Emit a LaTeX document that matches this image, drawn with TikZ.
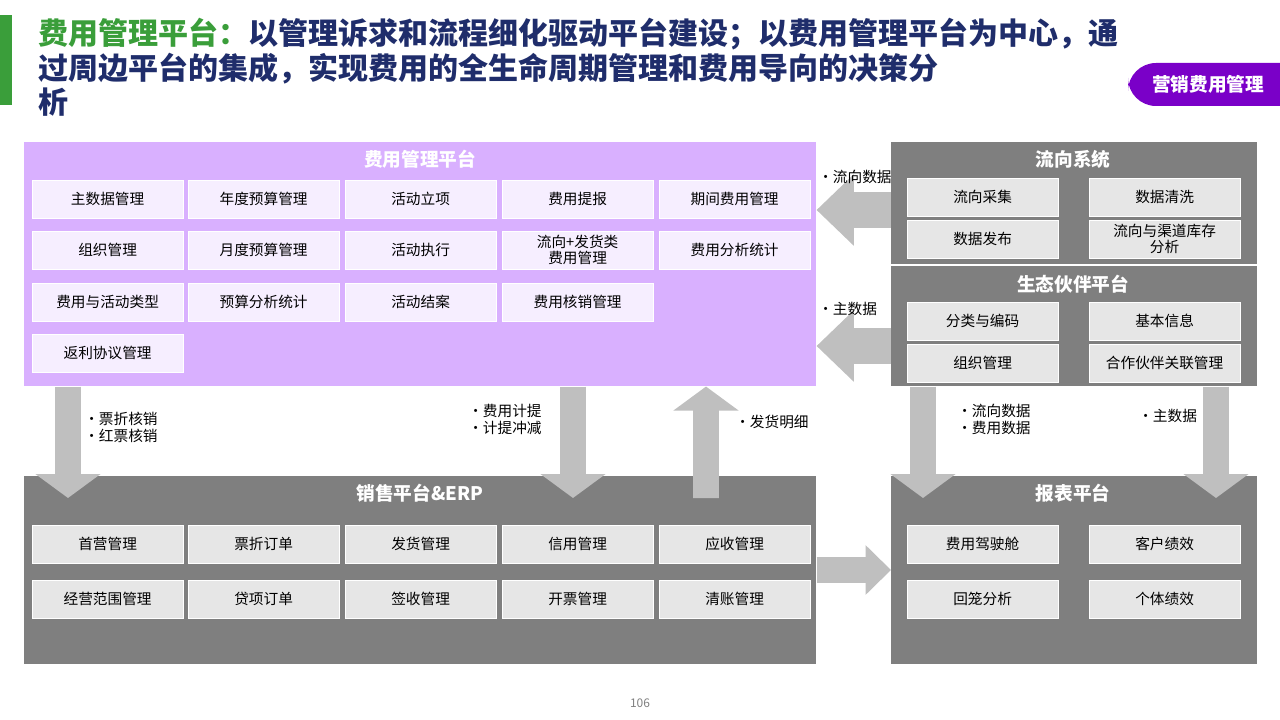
\documentclass[tikz,border=0pt]{standalone}
\usepackage{fontspec}
\setmainfont{Noto Sans CJK SC}
\usetikzlibrary{arrows.meta}
\definecolor{purplepanel}{HTML}{D9B0FF}
\definecolor{purplebox}{HTML}{F6EEFF}
\definecolor{panelgray}{HTML}{7F7F7F}
\definecolor{boxgray}{HTML}{E6E6E6}
\definecolor{arrowgray}{HTML}{BFBFBF}
\definecolor{titlenavy}{HTML}{1F2D6B}
\definecolor{titlegreen}{HTML}{3A9E3A}
\definecolor{badge}{HTML}{7A00C8}
\tikzstyle{panel} = [rectangle, anchor=north west, inner sep=0pt]
\tikzstyle{ptitle} = [text=white, font=\bfseries\fontsize{14}{16}\selectfont]
\tikzstyle{fbox} = [rectangle, anchor=north west, minimum width=113pt, minimum height=28.5pt, draw=white, fill=purplebox, align=center, font=\fontsize{11}{11}\selectfont, inner sep=0pt]
\tikzstyle{gbox} = [fbox, fill=boxgray]
\tikzstyle{vfat} = [line width=19.5pt, arrowgray, -{Triangle[length=18pt,width=48pt]}]
\tikzstyle{hfat} = [line width=27pt, arrowgray, -{Triangle[length=28pt,width=52pt]}]
\tikzstyle{note} = [anchor=north west, align=left, font=\fontsize{11}{13}\selectfont, inner sep=0pt]

\begin{document}
\begin{tikzpicture}[x=0.75pt, y=-0.75pt]
    \useasboundingbox (0,0) rectangle (1280,720);

    % title
    \fill[titlegreen] (0,15) rectangle (12,105);
    \node (title) [anchor=north west, align=left, inner sep=0pt, text=titlenavy, font=\bfseries\fontsize{22.5}{26}\selectfont] at (38,18)
        {\textcolor{titlegreen}{费用管理平台：}以管理诉求和流程细化驱动平台建设；以费用管理平台为中心，通\\过周边平台的集成，实现费用的全生命周期管理和费用导向的决策分\\析};
    \fill[badge, rounded corners=21pt] (1128,63) rectangle (1320,106);
    \node (badge) [text=white, font=\bfseries\fontsize{14}{16}\selectfont] at (1208,84) {营销费用管理};

    % panels
    \node (fee) [panel, fill=purplepanel, minimum width=594pt, minimum height=183pt] at (24,142) {};
    \node [ptitle] at (420,159) {费用管理平台};
    \node (flow) [panel, fill=panelgray, minimum width=274pt, minimum height=91pt] at (891,142) {};
    \node [ptitle] at (1073,159) {流向系统};
    \node (eco) [panel, fill=panelgray, minimum width=274pt, minimum height=90pt] at (891,266) {};
    \node [ptitle] at (1073,284) {生态伙伴平台};
    \node (sales) [panel, fill=panelgray, minimum width=594pt, minimum height=141pt] at (24,476) {};
    \node [ptitle] at (420,493) {销售平台\&ERP};
    \node (report) [panel, fill=panelgray, minimum width=274pt, minimum height=141pt] at (891,476) {};
    \node [ptitle] at (1073,493) {报表平台};

    % fee platform modules
    \node (f11) [fbox] at (32,180) {主数据管理};
    \node (f12) [fbox] at (188,180) {年度预算管理};
    \node (f13) [fbox] at (345,180) {活动立项};
    \node (f14) [fbox] at (502,180) {费用提报};
    \node (f15) [fbox] at (659,180) {期间费用管理};
    \node (f21) [fbox] at (32,231) {组织管理};
    \node (f22) [fbox] at (188,231) {月度预算管理};
    \node (f23) [fbox] at (345,231) {活动执行};
    \node (f24) [fbox, font=\fontsize{11}{12}\selectfont] at (502,231) {流向+发货类\\费用管理};
    \node (f25) [fbox] at (659,231) {费用分析统计};
    \node (f31) [fbox] at (32,283) {费用与活动类型};
    \node (f32) [fbox] at (188,283) {预算分析统计};
    \node (f33) [fbox] at (345,283) {活动结案};
    \node (f34) [fbox] at (502,283) {费用核销管理};
    \node (f41) [fbox] at (32,334) {返利协议管理};

    % flow / eco modules
    \node (l11) [gbox] at (907,178) {流向采集};
    \node (l12) [gbox] at (1089,178) {数据清洗};
    \node (l21) [gbox] at (907,220) {数据发布};
    \node (l22) [gbox, font=\fontsize{11}{12}\selectfont] at (1089,220) {流向与渠道库存\\分析};
    \node (e11) [gbox] at (907,302) {分类与编码};
    \node (e12) [gbox] at (1089,302) {基本信息};
    \node (e21) [gbox] at (907,344) {组织管理};
    \node (e22) [gbox] at (1089,344) {合作伙伴关联管理};

    % sales modules
    \node (s11) [gbox] at (32,525) {首营管理};
    \node (s12) [gbox] at (188,525) {票折订单};
    \node (s13) [gbox] at (345,525) {发货管理};
    \node (s14) [gbox] at (502,525) {信用管理};
    \node (s15) [gbox] at (659,525) {应收管理};
    \node (s21) [gbox] at (32,580) {经营范围管理};
    \node (s22) [gbox] at (188,580) {贷项订单};
    \node (s23) [gbox] at (345,580) {签收管理};
    \node (s24) [gbox] at (502,580) {开票管理};
    \node (s25) [gbox] at (659,580) {清账管理};

    % report modules
    \node (r11) [gbox] at (907,525) {费用驾驶舱};
    \node (r12) [gbox] at (1089,525) {客户绩效};
    \node (r21) [gbox] at (907,580) {回笼分析};
    \node (r22) [gbox] at (1089,580) {个体绩效};

    % arrows
    \draw [hfat] (flow.west |- 0,210) -- (fee.east |- 0,210);
    \draw [hfat] (eco.west |- 0,346) -- (fee.east |- 0,346);
    \draw [vfat] (fee.south -| 68,0) -- (sales.north -| 68,0) -- +(0,22);
    \draw [vfat] (fee.south -| 573,0) -- (sales.north -| 573,0) -- +(0,22);
    \draw [vfat] (sales.north -| 706,0) -- +(0,22) -- (fee.south -| 706,0);
    \draw [vfat] (eco.south -| 923,0) -- (report.north -| 923,0) -- +(0,22);
    \draw [vfat] (eco.south -| 1216,0) -- (report.north -| 1216,0) -- +(0,22);
    \draw [line width=19pt, arrowgray, -{Triangle[length=19pt,width=36pt]}] (sales.east |- 0,570) -- (report.west |- 0,570);

    % labels
    \node (n1) [note] at (818,170) {•流向数据};
    \node (n2) [note] at (818,302) {•主数据};
    \node (n3) [note] at (84,412) {•票折核销\\•红票核销};
    \node (n4) [note] at (468,404) {•费用计提\\•计提冲减};
    \node (n5) [note] at (735,415) {•发货明细};
    \node (n6) [note] at (957,404) {•流向数据\\•费用数据};
    \node (n7) [note] at (1138,409) {•主数据};
    \node (page) [text=gray, font=\fontsize{9}{9}\selectfont] at (640,703) {106};
\end{tikzpicture}
\end{document}
